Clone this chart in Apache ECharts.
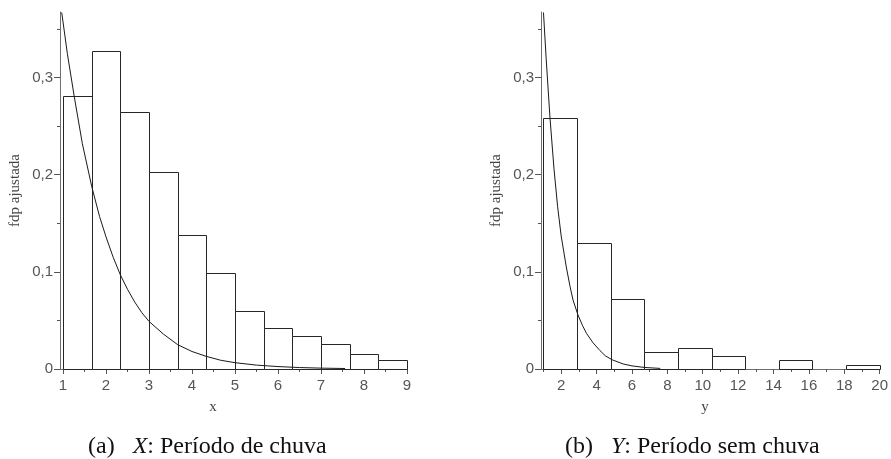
<!DOCTYPE html>
<html><head><meta charset="utf-8">
<script src="https://cdn.jsdelivr.net/npm/echarts@6/dist/echarts.min.js"></script>
<style>html,body{margin:0;padding:0;background:#fff}#c{width:891px;height:459px}</style>
</head><body><div id="c"></div>
<script>
// ---- Data: (a) X, Período de chuva ----
const binEdgesX = [1, 1.667, 2.333, 3, 3.667, 4.333, 5, 5.667, 6.333, 7, 7.667, 8.333, 9];
const densX = [0.281, 0.327, 0.265, 0.203, 0.138, 0.099, 0.060, 0.042, 0.034, 0.026, 0.015, 0.009];
const curveXx = [0.97, 1.1, 1.263, 1.45, 1.667, 1.85, 2.0, 2.167, 2.333, 2.5, 2.667, 2.833, 3.0, 3.333, 3.667, 4.0, 4.333, 4.667, 5.0, 5.5, 6.0, 6.5, 7.0, 7.56];
const curveXy = [0.367, 0.325, 0.28, 0.232, 0.188, 0.157, 0.136, 0.115, 0.097, 0.082, 0.069, 0.058, 0.049, 0.036, 0.025, 0.018, 0.013, 0.009, 0.0065, 0.004, 0.0025, 0.0015, 0.0009, 0.0005];
const xTickLabelsA = [1, 2, 3, 4, 5, 6, 7, 8, 9];
const xMinorTicksA = [1.5, 2.5, 3.5, 4.5, 5.5, 6.5, 7.5, 8.5];

// ---- Data: (b) Y, Período sem chuva ----
const binEdgesY = [1, 2.9, 4.8, 6.7, 8.6, 10.5, 12.4, 14.3, 16.2, 18.1, 20];
const densY = [0.258, 0.130, 0.072, 0.018, 0.022, 0.013, 0, 0.009, 0, 0.004];
const curveYx = [1.0, 1.15, 1.37, 1.6, 1.8, 2.0, 2.29, 2.5, 2.67, 2.95, 3.2, 3.43, 3.8, 4.19, 4.5, 4.88, 5.5, 6.0, 6.7, 7.6];
const curveYy = [0.367, 0.32, 0.258, 0.205, 0.167, 0.137, 0.105, 0.085, 0.071, 0.0556, 0.045, 0.0367, 0.027, 0.019, 0.0135, 0.0095, 0.0052, 0.0032, 0.0016, 0.0006];
const xTickLabelsB = [2, 4, 6, 8, 10, 12, 14, 16, 18, 20];
const xMinorTicksB = [1, 3, 5, 7, 9, 11, 13, 15, 17, 19];

const yTickLabels = [0, 0.1, 0.2, 0.3];
const yMinorTicks = [0.05, 0.15, 0.25, 0.35];
const yName = 'fdp ajustada';
const captionA = ['(a)', 'X', ': Período de chuva'];
const captionB = ['(b)', 'Y', ': Período sem chuva'];

const YMAX = 0.3675;
const axisCol = '#6e6e6e';
const tickCol = '#555';
const labelStyle = {fontFamily: '"Liberation Sans", Arial, sans-serif', fontSize: 15, color: '#555'};

function bins(edges, dens) {
  return dens.map((d, i) => [edges[i], edges[i + 1], d]);
}
function pairs(xs, ys) { return xs.map((x, i) => [x, ys[i]]); }

function renderBar(params, api) {
  const h = api.value(2);
  if (!h) return null;
  const p0 = api.coord([api.value(0), h]);
  const p1 = api.coord([api.value(1), 0]);
  const x0 = Math.round(p0[0]) + 0.5, x1 = Math.round(p1[0]) + 0.5;
  const y0 = Math.round(p0[1]) + 0.5, y1 = Math.round(p1[1]) + 0.5;
  return {type: 'rect', shape: {x: x0, y: y0, width: x1 - x0, height: y1 - y0},
    style: {fill: '#fff', stroke: '#262626', lineWidth: 1}};
}

function xAxes(grid, min, max, labels, minor) {
  return [
    {type: 'value', gridIndex: grid, position: 'bottom', min: min, max: max, splitLine: {show: false},
     axisLine: {show: true, onZero: false, lineStyle: {color: axisCol, width: 1}},
     axisTick: {show: true, customValues: labels, length: 5, lineStyle: {color: tickCol}},
     axisLabel: Object.assign({customValues: labels, margin: 9}, labelStyle)},
    {type: 'value', gridIndex: grid, position: 'bottom', offset: 0, min: min, max: max, splitLine: {show: false},
     axisLine: {show: false, onZero: false},
     axisTick: {show: true, customValues: minor, length: 3, lineStyle: {color: tickCol}},
     axisLabel: {show: false}}
  ];
}
function yAxes(grid) {
  return [
    {type: 'value', gridIndex: grid, position: 'left', min: 0, max: YMAX, splitLine: {show: false},
     name: yName, nameLocation: 'middle', nameRotate: 90, nameGap: 37,
     nameTextStyle: {fontFamily: '"Liberation Serif", serif', fontSize: 15, color: '#444'},
     axisLine: {show: true, onZero: false, lineStyle: {color: axisCol, width: 1}},
     axisTick: {show: true, customValues: yTickLabels, length: 6, lineStyle: {color: tickCol}},
     axisLabel: Object.assign({customValues: yTickLabels, margin: 7,
       formatter: v => v === 0 ? '0' : String(v).replace('.', ',')}, labelStyle)},
    {type: 'value', gridIndex: grid, position: 'left', offset: 0, min: 0, max: YMAX, splitLine: {show: false},
     axisLine: {show: false, onZero: false},
     axisTick: {show: true, customValues: yMinorTicks, length: 3, lineStyle: {color: tickCol}},
     axisLabel: {show: false}}
  ];
}

function caption(parts, x) {
  return {type: 'text', x: x, y: 447, silent: true,
    style: {text: '{n|' + parts[0] + '}{n|   }{i|' + parts[1] + '}{n|' + parts[2] + '}',
      verticalAlign: 'middle', align: 'left',
      rich: {n: {fontFamily: '"Liberation Serif", serif', fontSize: 24, fill: '#111'},
             i: {fontFamily: '"Liberation Serif", serif', fontStyle: 'italic', fontSize: 24, fill: '#111'}}}};
}

const chart = echarts.init(document.getElementById('c'), null, {renderer: 'canvas'});
chart.setOption({
  animation: false,
  backgroundColor: '#fff',
  grid: [
    {left: 60, top: 12, width: 347, height: 357},
    {left: 541, top: 12, width: 342, height: 357}
  ],
  xAxis: [].concat(xAxes(0, 0.93, 9, xTickLabelsA, xMinorTicksA), xAxes(1, 0.86, 20, xTickLabelsB, xMinorTicksB)),
  yAxis: [].concat(yAxes(0), yAxes(1)),
  series: [
    {type: 'custom', xAxisIndex: 0, yAxisIndex: 0, renderItem: renderBar,
     encode: {x: [0, 1], y: 2}, data: bins(binEdgesX, densX), z: 2},
    {type: 'line', xAxisIndex: 0, yAxisIndex: 0, data: pairs(curveXx, curveXy),
     showSymbol: false, smooth: false, clip: true,
     lineStyle: {color: '#1a1a1a', width: 1}, z: 3},
    {type: 'custom', xAxisIndex: 2, yAxisIndex: 2, renderItem: renderBar,
     encode: {x: [0, 1], y: 2}, data: bins(binEdgesY, densY), z: 2},
    {type: 'line', xAxisIndex: 2, yAxisIndex: 2, data: pairs(curveYx, curveYy),
     showSymbol: false, smooth: false, clip: true,
     lineStyle: {color: '#1a1a1a', width: 1}, z: 3}
  ],
  graphic: [
    {type: 'text', x: 213, y: 407, silent: true,
     style: {text: 'x', align: 'center', verticalAlign: 'middle',
       font: '15px "Liberation Serif", serif', fill: '#444'}},
    {type: 'text', x: 705, y: 407, silent: true,
     style: {text: 'y', align: 'center', verticalAlign: 'middle',
       font: '15px "Liberation Serif", serif', fill: '#444'}},
    caption(captionA, 88),
    caption(captionB, 565)
  ]
});
</script>
</body></html>
